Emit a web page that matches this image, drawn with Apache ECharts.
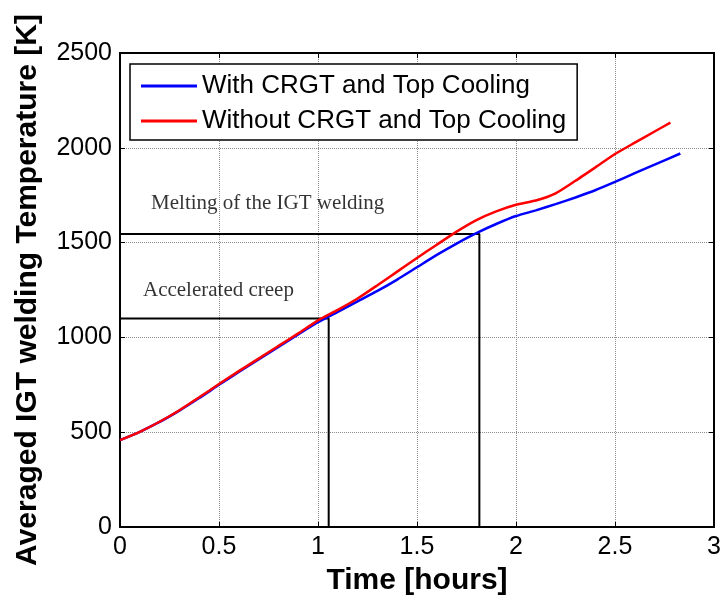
<!DOCTYPE html>
<html>
<head>
<meta charset="utf-8">
<script src="https://cdn.jsdelivr.net/npm/echarts@6/dist/echarts.min.js"></script>
<style>
  html, body { margin: 0; padding: 0; background: #fff; }
  #main { width: 722px; height: 597px; }
</style>
</head>
<body>
<div id="main"></div>
<script>
// time axis (hours)
const timeWith = [0, 0.1, 0.2, 0.3, 0.4, 0.5, 0.6, 0.7, 0.8, 0.9, 1.0, 1.1, 1.2, 1.3, 1.4, 1.5, 1.6, 1.7, 1.8, 1.9, 2.0, 2.1, 2.2, 2.3, 2.4, 2.5, 2.6, 2.7, 2.83];
const tempWith = [458, 502, 554, 614, 680, 750, 818, 884, 950, 1016, 1080, 1135, 1190, 1245, 1305, 1370, 1435, 1495, 1550, 1598, 1640, 1670, 1703, 1738, 1776, 1820, 1866, 1911, 1970];

const timeWithout = [0, 0.1, 0.2, 0.3, 0.4, 0.5, 0.6, 0.7, 0.8, 0.9, 1.0, 1.1, 1.2, 1.3, 1.4, 1.5, 1.6, 1.7, 1.8, 1.9, 2.0, 2.1, 2.2, 2.3, 2.4, 2.5, 2.6, 2.7, 2.78];
const tempWithout = [458, 502, 555, 616, 684, 754, 822, 888, 955, 1021, 1090, 1145, 1205, 1275, 1347, 1419, 1489, 1558, 1619, 1665, 1700, 1722, 1760, 1826, 1896, 1967, 2027, 2086, 2133];

// guide lines: [time, temperature] corners
const creepLine = [[0, 1100], [1.054, 1100], [1.054, 0]];
const meltLine = [[0, 1545], [1.815, 1545], [1.815, 0]];

// annotation texts: [time, temperature, text]
const notes = [
  [0.157, 1705, 'Melting of the IGT welding'],
  [0.116, 1247, 'Accelerated creep']
];

const xTicks = { min: 0, max: 3, interval: 0.5 };
const yTicks = { min: 0, max: 2500, interval: 500 };

const zip = (xs, ys) => xs.map((x, i) => [x, ys[i]]);

const chart = echarts.init(document.getElementById('main'));

const gridLine = { show: true, lineStyle: { color: '#8c8c8c', type: [1, 1], width: 1 } };
const tickIn = { show: true, inside: true, length: 5, lineStyle: { color: '#000' } };
const axisBlack = { show: true, onZero: false, lineStyle: { color: '#000', width: 2 } };

const option = {
  animation: false,
  backgroundColor: '#fff',
  grid: { left: 120, right: 8, top: 53, bottom: 70, outerBoundsMode: 'none', containLabel: false },
  legend: {
    left: 130,
    top: 64,
    orient: 'vertical',
    icon: 'rect',
    itemWidth: 56,
    itemHeight: 3,
    itemGap: 9,
    padding: [9, 11, 6, 11],
    borderColor: '#000',
    borderWidth: 1.5,
    backgroundColor: '#fff',
    textStyle: { fontFamily: 'Arial, Liberation Sans', fontSize: 26, color: '#000' },
    data: ['With CRGT and Top Cooling', 'Without CRGT and Top Cooling']
  },
  xAxis: [
    {
      type: 'value',
      ...xTicks,
      name: 'Time [hours]',
      nameLocation: 'middle',
      nameGap: 39,
      nameTextStyle: { fontFamily: 'Arial, Liberation Sans', fontSize: 30, fontWeight: 'bold', color: '#000' },
      axisLine: axisBlack,
      axisTick: tickIn,
      splitLine: gridLine,
      axisLabel: { fontFamily: 'Arial, Liberation Sans', fontSize: 25, color: '#000', margin: 8 }
    },
    {
      type: 'value',
      position: 'top',
      ...xTicks,
      axisLine: axisBlack,
      axisTick: tickIn,
      splitLine: { show: false },
      axisLabel: { show: false }
    }
  ],
  yAxis: [
    {
      type: 'value',
      ...yTicks,
      name: 'Averaged IGT welding Temperature [K]',
      nameLocation: 'middle',
      nameGap: 77,
      nameTextStyle: { fontFamily: 'Arial, Liberation Sans', fontSize: 30, fontWeight: 'bold', color: '#000' },
      axisLine: axisBlack,
      axisTick: tickIn,
      splitLine: gridLine,
      axisLabel: { fontFamily: 'Arial, Liberation Sans', fontSize: 25, color: '#000', margin: 8, formatter: v => String(v) }
    },
    {
      type: 'value',
      position: 'right',
      ...yTicks,
      axisLine: axisBlack,
      axisTick: tickIn,
      splitLine: { show: false },
      axisLabel: { show: false }
    }
  ],
  series: [
    {
      name: 'guide1',
      type: 'line',
      data: creepLine,
      symbol: 'none',
      lineStyle: { color: '#000', width: 2 },
      silent: true
    },
    {
      name: 'guide2',
      type: 'line',
      data: meltLine,
      symbol: 'none',
      lineStyle: { color: '#000', width: 2 },
      silent: true
    },
    {
      name: 'With CRGT and Top Cooling',
      type: 'line',
      data: zip(timeWith, tempWith),
      smooth: 0.2,
      symbol: 'none',
      color: '#0000ff',
      lineStyle: { color: '#0000ff', width: 2.5 }
    },
    {
      name: 'Without CRGT and Top Cooling',
      type: 'line',
      data: zip(timeWithout, tempWithout),
      smooth: 0.2,
      symbol: 'none',
      color: '#ff0000',
      lineStyle: { color: '#ff0000', width: 2.5 }
    },
    {
      name: 'notes',
      type: 'scatter',
      symbolSize: 0,
      data: notes.map(n => ({ value: [n[0], n[1]], text: n[2] })),
      label: {
        show: true,
        position: 'right',
        distance: 0,
        formatter: p => p.data.text,
        fontFamily: 'Times New Roman, Liberation Serif',
        fontSize: 21,
        color: '#000'
      },
      silent: true
    }
  ]
};

chart.setOption(option);
</script>
</body>
</html>
